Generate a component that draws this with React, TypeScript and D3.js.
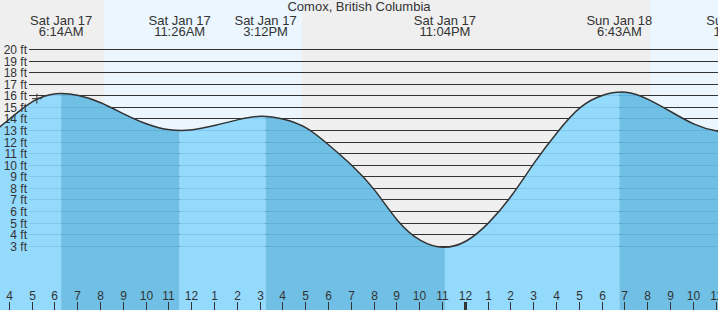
import React from "react";
import * as d3 from "d3";

// hours since midnight, Sat Jan 17 (hourly readings of the tide curve)
const tideHours = d3.range(3, 38);
const tideFeet = [12.45, 14.04, 15.52, 16.17, 16.02, 15.38, 14.42, 13.56, 13.06, 13.06, 13.45, 13.94, 14.24, 13.97, 13.2, 11.7, 9.95, 7.8, 5.2, 3.5, 2.91, 3.45, 5.06, 7.4, 10.24, 12.85, 14.97, 16.04, 16.3, 15.67, 14.6, 13.55, 12.95, 12.85, 13.1];

const extremeHours = [6.233, 11.433, 15.2, 23.067, 30.717, 35.97];
const extremeDates = ["Sat Jan 17", "Sat Jan 17", "Sat Jan 17", "Sat Jan 17", "Sun Jan 18", "Sun Jan 18"];
const extremeClock = ["6:14AM", "11:26AM", "3:12PM", "11:04PM", "6:43AM", "11:58AM"];
const extremeRising = [false, true, false, true, false, true]; // trend after each extreme

const sunrise = [8.12, 32.07];
const sunset = [16.8, 40.8];

const feetTicks = d3.range(3, 21);
const hourTicks = d3.range(4, 36);

const markerHour = 5.17;
const markerFeet = 15.75;

const title = "Comox, British Columbia";

const W = 718;
const H = 310;
const FONT = "'Liberation Sans', Arial, sans-serif";

export default function App() {
  const x = d3.scaleLinear().domain([4, 35]).range([10.2, 10.2 + 31 * 22.8]);
  const y = d3.scaleLinear().domain([0, 20]).range([280.9, 49.5]);

  const pts = tideHours.map((h, i) => [h, tideFeet[i]] as [number, number]);
  const curve = d3.curveNatural;
  const line = d3
    .line<[number, number]>()
    .x((d) => x(d[0]))
    .y((d) => y(d[1]))
    .curve(curve);
  const area = d3
    .area<[number, number]>()
    .x((d) => x(d[0]))
    .y0(H)
    .y1((d) => y(d[1]))
    .curve(curve);

  // water phase bands
  const bands: { a: number; b: number; rising: boolean }[] = [];
  bands.push({ a: tideHours[0] - 1, b: extremeHours[0], rising: true });
  extremeHours.forEach((h, i) => {
    bands.push({ a: h, b: i + 1 < extremeHours.length ? extremeHours[i + 1] : h + 6, rising: extremeRising[i] });
  });

  const gx0 = 29;

  return (
    <svg
      width={W}
      height={H}
      style={{ position: "absolute", left: 0, top: 0, fontFamily: FONT }}
    >
      <defs>
        <clipPath id="water">
          <path d={area(pts) || ""} />
        </clipPath>
      </defs>
      <rect x={0} y={0} width={W} height={H} fill="#efefef" />
      {sunrise.map((s, i) => (
        <rect key={i} x={x(s)} y={0} width={x(sunset[i]) - x(s)} height={H} fill="#ebf6fe" />
      ))}
      {feetTicks.map((f) => {
        const yy = Math.floor(y(f)) + 0.5;
        return <line key={f} x1={gx0} x2={W} y1={yy} y2={yy} stroke="#333" strokeWidth={1} />;
      })}
      <g clipPath="url(#water)">
        {bands.map((b, i) => (
          <rect
            key={i}
            x={x(b.a)}
            y={0}
            width={x(b.b) - x(b.a)}
            height={H}
            fill={b.rising ? "#93dafd" : "#70c0e5"}
          />
        ))}
        {feetTicks.map((f) => {
          const yy = Math.floor(y(f)) + 0.5;
          return (
            <line key={f} x1={gx0} x2={W} y1={yy} y2={yy} stroke="rgba(0,70,130,0.12)" strokeWidth={1} />
          );
        })}
      </g>
      <path d={line(pts) || ""} fill="none" stroke="#333" strokeWidth={1.5} />
      <g stroke="#333" strokeWidth={1}>
        <line x1={x(markerHour) - 5} x2={x(markerHour) + 5} y1={y(markerFeet)} y2={y(markerFeet)} />
        <line x1={x(markerHour)} x2={x(markerHour)} y1={y(markerFeet) - 5} y2={y(markerFeet) + 5} />
      </g>
      {feetTicks.map((f) => (
        <text key={f} x={27} y={Math.floor(y(f)) + 4.5} textAnchor="end" fontSize={12} fill="#333">
          {f} ft
        </text>
      ))}
      {hourTicks.map((h) => {
        const xx = Math.floor(x(h)) - 0.5;
        const mid = h % 24 === 0;
        return (
          <g key={h}>
            <text x={xx} y={300} textAnchor="middle" fontSize={12} fill="#333">
              {h % 12 === 0 ? 12 : h % 12}
            </text>
            <line x1={xx} x2={xx} y1={302} y2={H} stroke="#333" strokeWidth={mid ? 3 : 1} />
          </g>
        );
      })}
      <text x={359} y={11} textAnchor="middle" fontSize={13} fill="#333">
        {title}
      </text>
      {extremeHours.map((h, i) => (
        <g key={i}>
          <text x={x(h)} y={25} textAnchor="middle" fontSize={13} fill="#333">
            {extremeDates[i]}
          </text>
          <text x={x(h)} y={36} textAnchor="middle" fontSize={13} fill="#333">
            {extremeClock[i]}
          </text>
        </g>
      ))}
    </svg>
  );
}
